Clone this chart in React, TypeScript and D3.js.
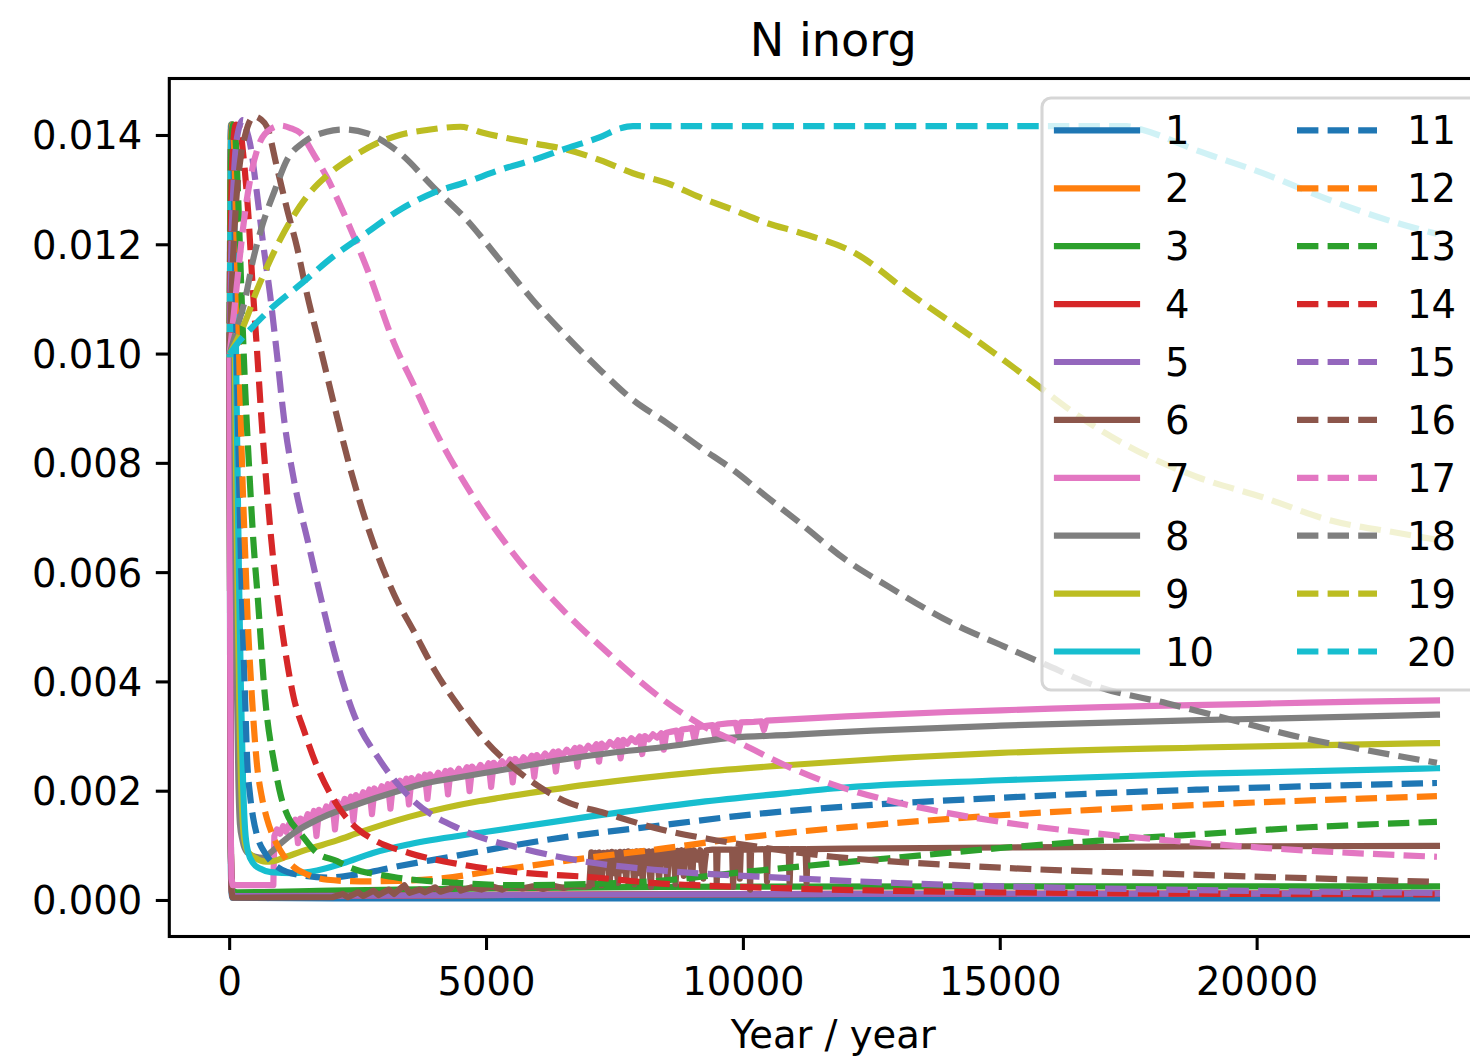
import React from 'react';
import * as d3 from 'd3';

type P = [number, number];

const seriesLabels = ['1','2','3','4','5','6','7','8','9','10','11','12','13','14','15','16','17','18','19','20'];
const tab10 = ['#1f77b4','#ff7f0e','#2ca02c','#d62728','#9467bd','#8c564b','#e377c2','#7f7f7f','#bcbd22','#17becf'];
const xTickValues = [0, 5000, 10000, 15000, 20000];
const yTickValues = [0, 0.002, 0.004, 0.006, 0.008, 0.010, 0.012, 0.014];

const s1: P[] = [[0,0.01],[8,0.0045],[18,0.0012],[30,0.0003],[50,0.00005],[2000,0.00004],[10000,0.00004],[23500,0.00004]];
const s2: P[] = [[0,0.01],[10,0.0045],[22,0.0012],[36,0.0003],[60,0.00008],[3000,0.00009],[7000,0.00011],[12000,0.00012],[23500,0.00013]];
const s3: P[] = [[0,0.01],[10,0.0045],[22,0.0013],[36,0.0004],[60,0.00018],[150,0.00015],[2000,0.00018],[5000,0.00022],[8400,0.00025],[15000,0.00026],[23500,0.00026]];
const s4: P[] = [[0,0.01],[10,0.0045],[22,0.0012],[36,0.0003],[60,0.00008],[3000,0.00009],[7000,0.00011],[12000,0.00012],[23500,0.00013]];
const s5: P[] = [[0,0.01],[10,0.0045],[22,0.0012],[36,0.0003],[60,0.00008],[3000,0.00009],[7000,0.00011],[12000,0.00012],[23500,0.00013]];
const s6: P[] = [[0,0.01],[10,0.004],[25,0.0008],[40,0.00015],[60,0.00005],[2000,0.00006],[2200,0.00012],[2300,0.00006],[2500,0.00015],[2600,0.00008],[2800,0.00018],[2900,0.0001],[3100,0.0002],[3200,0.00012],[3400,0.00028],[3500,0.00014],[3700,0.0002],[3800,0.00015],[4000,0.00024],[4100,0.00016],[4300,0.00022],[4400,0.00034],[4500,0.00018],[4700,0.00024],[4900,0.0002],[5100,0.00026],[5300,0.0002],[5500,0.00028],[5700,0.00022],[5900,0.00026],[6100,0.00021],[6300,0.00027],[6500,0.00023],[6700,0.00028],[6900,0.00025],[7000,0.00026],[7040,0.00088],[7060,0.0005],[7080,0.0003],[7100,0.0007],[7120,0.00087],[7140,0.0006],[7160,0.00045],[7180,0.0008],[7200,0.00088],[7220,0.0005],[7240,0.00028],[7260,0.0007],[7280,0.00087],[7300,0.0007],[7320,0.0006],[7340,0.0008],[7360,0.00088],[7380,0.0005],[7400,0.00035],[7420,0.0007],[7440,0.00089],[7460,0.0007],[7480,0.0005],[7500,0.0008],[7520,0.00088],[7540,0.0005],[7560,0.00032],[7580,0.0007],[7600,0.00089],[7620,0.0007],[7640,0.00055],[7660,0.0008],[7680,0.00089],[7700,0.0006],[7720,0.00038],[7740,0.0007],[7760,0.0009],[7780,0.0007],[7800,0.0006],[7820,0.0008],[7840,0.00089],[7860,0.0005],[7880,0.0003],[7900,0.0007],[7920,0.0009],[7940,0.0007],[7960,0.0005],[7980,0.0008],[8000,0.0009],[8020,0.0006],[8040,0.00036],[8060,0.0007],[8080,0.0009],[8100,0.0008],[8120,0.00065],[8140,0.0008],[8160,0.0009],[8180,0.0005],[8200,0.00025],[8220,0.0007],[8240,0.0009],[8260,0.0007],[8280,0.0006],[8300,0.0008],[8320,0.00091],[8340,0.0006],[8360,0.0004],[8380,0.0007],[8400,0.00091],[8420,0.0008],[8440,0.0007],[8460,0.0008],[8480,0.00091],[8500,0.0006],[8520,0.00035],[8540,0.0007],[8560,0.00091],[8580,0.0008],[8600,0.00075],[8620,0.0008],[8640,0.00091],[8660,0.0006],[8680,0.0003],[8700,0.0007],[8720,0.00091],[8740,0.0007],[8760,0.0006],[8780,0.0008],[8800,0.00092],[8820,0.0006],[8840,0.00045],[8860,0.0008],[8880,0.00092],[8900,0.0008],[8920,0.0007],[8940,0.0008],[8960,0.00092],[8980,0.0005],[9000,0.00032],[9020,0.0007],[9040,0.00092],[9070,0.0008],[9100,0.00075],[9130,0.0008],[9160,0.00092],[9190,0.0006],[9220,0.0004],[9250,0.0007],[9280,0.00092],[9400,0.00093],[9470,0.00093],[9480,0.0003],[9500,0.00093],[9780,0.00093],[9800,0.00025],[9820,0.00093],[9920,0.00093],[9930,0.0004],[9950,0.00093],[10120,0.00093],[10130,0.0002],[10150,0.00093],[10440,0.00094],[10460,0.00035],[10480,0.00094],[10880,0.00094],[10900,0.0003],[10920,0.00094],[11210,0.00094],[11230,0.00032],[11250,0.00094],[12000,0.00095],[15000,0.00097],[19000,0.00099],[23500,0.001]];
const s7: P[] = [[0,0.01],[10,0.0045],[22,0.0012],[36,0.0004],[60,0.00028],[850,0.00028],[870,0.00118],[920,0.0013],[980,0.00122],[1040,0.00136],[1100,0.00126],[1160,0.0014],[1220,0.00132],[1280,0.00148],[1330,0.00105],[1380,0.0015],[1450,0.0014],[1520,0.00158],[1580,0.00146],[1640,0.00164],[1690,0.00118],[1740,0.00166],[1810,0.00155],[1880,0.00172],[1940,0.0016],[2000,0.00178],[2050,0.0013],[2100,0.0018],[2170,0.00168],[2240,0.00186],[2300,0.00174],[2360,0.0019],[2410,0.00145],[2460,0.00193],[2530,0.00182],[2600,0.00198],[2660,0.00187],[2720,0.00203],[2770,0.00158],[2820,0.00205],[2890,0.00194],[2960,0.00209],[3020,0.00198],[3080,0.00213],[3130,0.00168],[3180,0.00215],[3250,0.00204],[3320,0.00219],[3380,0.00208],[3440,0.00223],[3490,0.00176],[3540,0.00224],[3610,0.00213],[3680,0.00227],[3740,0.00216],[3800,0.0023],[3850,0.00186],[3900,0.00231],[3980,0.0022],[4060,0.00234],[4130,0.00223],[4200,0.00237],[4250,0.00194],[4300,0.00238],[4380,0.00228],[4460,0.00241],[4540,0.00231],[4620,0.00244],[4670,0.002],[4720,0.00245],[4800,0.00235],[4880,0.00248],[4960,0.00238],[5040,0.00251],[5090,0.00208],[5140,0.00252],[5220,0.00243],[5300,0.00255],[5380,0.00246],[5460,0.00258],[5510,0.00216],[5560,0.00259],[5640,0.0025],[5720,0.00262],[5800,0.00253],[5880,0.00265],[5930,0.00226],[5980,0.00266],[6060,0.00258],[6140,0.00269],[6220,0.00261],[6300,0.00272],[6350,0.00236],[6400,0.00273],[6480,0.00265],[6560,0.00276],[6640,0.00268],[6720,0.00279],[6770,0.00245],[6820,0.0028],[6900,0.00272],[6980,0.00283],[7060,0.00276],[7140,0.00286],[7190,0.00254],[7240,0.00287],[7320,0.0028],[7400,0.0029],[7480,0.00283],[7560,0.00293],[7610,0.0026],[7660,0.00294],[7740,0.00287],[7820,0.00297],[7900,0.0029],[7980,0.003],[8030,0.00268],[8080,0.00301],[8160,0.00295],[8240,0.00304],[8320,0.00298],[8400,0.00306],[8450,0.00276],[8500,0.00307],[8600,0.00309],[8700,0.00311],[8750,0.00286],[8800,0.00313],[8900,0.00314],[9000,0.00316],[9050,0.00294],[9100,0.00317],[9250,0.00319],[9400,0.00321],[9450,0.003],[9500,0.00322],[9700,0.00324],[9850,0.00325],[9900,0.00306],[9950,0.00326],[10200,0.00327],[10350,0.00328],[10400,0.00312],[10450,0.00329],[11000,0.00332],[12000,0.00337],[13000,0.00341],[14000,0.00345],[15000,0.00348],[16000,0.00351],[17000,0.00354],[18000,0.00356],[19000,0.00358],[20000,0.0036],[21000,0.00362],[22000,0.00364],[23500,0.00366]];
const s8: P[] = [[0,0.01],[12,0.0128],[25,0.0142],[45,0.0139],[70,0.0115],[100,0.0075],[140,0.004],[170,0.0022],[200,0.0014],[250,0.0011],[340,0.00088],[500,0.0008],[650,0.00078],[800,0.00088],[1000,0.00105],[1240,0.00123],[1800,0.00152],[2540,0.00178],[3200,0.00198],[3840,0.00215],[4500,0.00226],[5130,0.00236],[6430,0.00257],[7400,0.0027],[8380,0.0028],[9800,0.00298],[10900,0.00303],[12500,0.00311],[15000,0.0032],[18880,0.0033],[23500,0.0034]];
const s9: P[] = [[0,0.01],[15,0.013],[35,0.0142],[55,0.0139],[85,0.0115],[120,0.0082],[160,0.0052],[200,0.003],[240,0.0017],[280,0.00115],[350,0.0009],[500,0.00078],[700,0.00071],[850,0.00072],[1100,0.0008],[1500,0.00093],[2090,0.0011],[2540,0.00125],[3490,0.00153],[4870,0.00182],[5260,0.00188],[6960,0.00212],[9150,0.00235],[10900,0.00248],[15000,0.0027],[18880,0.0028],[23500,0.00288]];
const s10: P[] = [[0,0.01],[20,0.0135],[45,0.0142],[65,0.014],[100,0.0118],[140,0.0088],[180,0.006],[220,0.0038],[260,0.0022],[300,0.0013],[360,0.00088],[460,0.00068],[600,0.00058],[800,0.00052],[1240,0.0005],[1700,0.00055],[2200,0.00068],[2790,0.00087],[3500,0.00103],[4870,0.00124],[6960,0.00153],[9150,0.0018],[10900,0.00197],[11750,0.00205],[15000,0.0022],[18880,0.00232],[23500,0.00242]];
const s11: P[] = [[0,0.01],[10,0.0128],[25,0.0141],[45,0.0142],[70,0.0136],[110,0.0115],[160,0.0088],[210,0.0066],[250,0.0052],[300,0.0037],[340,0.0026],[400,0.0019],[460,0.0015],[530,0.0012],[700,0.00085],[920,0.00062],[1400,0.00046],[1900,0.00042],[2500,0.00048],[3300,0.00063],[4300,0.0008],[5350,0.00098],[6600,0.00117],[8000,0.00133],[10440,0.0016],[12500,0.00175],[15000,0.00188],[18880,0.00203],[23500,0.00215]];
const s12: P[] = [[0,0.01],[12,0.0126],[30,0.014],[55,0.0142],[85,0.0138],[130,0.0122],[190,0.0098],[250,0.0077],[300,0.0064],[335,0.0055],[435,0.0037],[530,0.0025],[625,0.0019],[725,0.0015],[880,0.0011],[1050,0.00082],[1240,0.00062],[1500,0.00048],[1900,0.00038],[2540,0.00035],[3300,0.00036],[4170,0.00041],[5200,0.00055],[6260,0.00069],[7300,0.00082],[8350,0.00094],[10000,0.00115],[12500,0.00138],[15000,0.00156],[18880,0.00175],[23500,0.00191]];
const s13: P[] = [[0,0.01],[15,0.0127],[40,0.014],[70,0.0142],[110,0.014],[160,0.013],[230,0.0111],[300,0.0094],[380,0.0079],[460,0.0066],[550,0.0055],[690,0.0037],[880,0.00245],[1000,0.0019],[1140,0.00153],[1370,0.00124],[1700,0.00087],[2090,0.00072],[2280,0.00063],[3190,0.00043],[4480,0.00032],[5570,0.00028],[7000,0.0003],[8350,0.00036],[10000,0.00052],[11750,0.00068],[13500,0.00083],[15000,0.00096],[17000,0.0011],[19000,0.00122],[21000,0.00134],[23500,0.00144]];
const s14: P[] = [[0,0.01],[20,0.0122],[60,0.0137],[120,0.0142],[190,0.01415],[270,0.0136],[360,0.0126],[450,0.0112],[530,0.0101],[620,0.0088],[710,0.0077],[800,0.0067],[900,0.0058],[1060,0.0047],[1250,0.0037],[1450,0.0031],[1680,0.0025],[2090,0.00175],[2500,0.0013],[2790,0.00112],[3490,0.00087],[4500,0.00066],[5800,0.0005],[7000,0.00043],[8400,0.00031],[9040,0.00028],[10900,0.00022],[15000,0.00015],[23500,0.00011]];
const s15: P[] = [[0,0.01],[30,0.0118],[80,0.0132],[150,0.014],[260,0.01428],[330,0.0141],[395,0.01386],[530,0.01295],[650,0.01203],[785,0.0111],[920,0.01],[1060,0.0088],[1250,0.0077],[1540,0.0065],[1760,0.0056],[2050,0.0045],[2420,0.0034],[2900,0.0026],[3550,0.00185],[4500,0.0013],[5700,0.00095],[7000,0.0007],[8400,0.00055],[10900,0.00041],[13000,0.00032],[15000,0.00026],[18880,0.00019],[23500,0.00014]];
const s16: P[] = [[0,0.01],[50,0.0114],[120,0.0127],[200,0.0135],[300,0.014],[400,0.01428],[480,0.01435],[600,0.0143],[730,0.01415],[920,0.01342],[1120,0.01264],[1310,0.01196],[1500,0.01112],[1760,0.01013],[2010,0.00916],[2340,0.00793],[2730,0.00672],[3200,0.0056],[3600,0.0049],[4000,0.0042],[4500,0.0035],[5000,0.0029],[5500,0.00245],[6000,0.0021],[6500,0.00183],[7300,0.0016],[8400,0.0013],[9300,0.00113],[10300,0.00098],[11750,0.0008],[13300,0.00069],[15000,0.0006],[18880,0.00047],[23500,0.00034]];
const s17: P[] = [[0,0.01],[100,0.0109],[200,0.0118],[300,0.0126],[420,0.0133],[600,0.0139],[800,0.01412],[1000,0.01418],[1200,0.01413],[1370,0.01405],[1620,0.01368],[1890,0.01324],[2280,0.01245],[2700,0.0115],[3200,0.0102],[3600,0.0094],[4000,0.0086],[4600,0.0076],[5400,0.0065],[6400,0.0054],[7400,0.0045],[8400,0.0037],[9200,0.0032],[10000,0.00285],[10800,0.00248],[11750,0.00212],[12700,0.00186],[13700,0.00165],[15000,0.00144],[17580,0.00116],[20180,0.00096],[23500,0.0008]];
const s18: P[] = [[0,0.01],[150,0.0105],[300,0.011],[450,0.0117],[650,0.0124],[880,0.013],[1120,0.01356],[1430,0.01387],[1890,0.01407],[2210,0.01411],[2670,0.01404],[3310,0.01368],[3960,0.01306],[4620,0.01245],[5260,0.01172],[5900,0.01099],[6570,0.01031],[7210,0.00971],[7850,0.00916],[8510,0.00874],[9150,0.0083],[9800,0.00788],[10450,0.00739],[11100,0.00691],[12000,0.00623],[12850,0.00573],[14140,0.00504],[15000,0.00468],[15850,0.00433],[16940,0.0039],[18240,0.00361],[19530,0.0033],[20830,0.00299],[22130,0.00275],[23500,0.00252]];
const s19: P[] = [[0,0.01],[140,0.01025],[340,0.01068],[530,0.01117],[730,0.0116],[980,0.01209],[1230,0.01251],[1560,0.01295],[1950,0.01331],[2400,0.01361],[2870,0.01386],[3310,0.01401],[3840,0.0141],[4490,0.01416],[4930,0.01405],[5900,0.01386],[6570,0.01374],[7210,0.01355],[7850,0.01331],[8510,0.01313],[9150,0.01287],[9800,0.01264],[10450,0.0124],[11100,0.01222],[12170,0.01185],[13280,0.01108],[14560,0.01024],[15580,0.00953],[16550,0.00885],[17520,0.0083],[18830,0.00775],[20110,0.00738],[21410,0.00696],[22720,0.00673],[23500,0.0066]];
const s20: P[] = [[0,0.01],[200,0.01025],[450,0.0105],[780,0.01081],[1370,0.01127],[2010,0.01178],[2670,0.01222],[3310,0.01264],[3960,0.01295],[4620,0.01315],[5260,0.01337],[5900,0.01355],[6570,0.01377],[7210,0.01397],[7600,0.01413],[7850,0.01417],[12000,0.01417],[17460,0.01417],[17780,0.0141],[18820,0.01373],[20110,0.01331],[21410,0.01282],[22720,0.0124],[23500,0.0122]];

const allSeries: P[][] = [s1,s2,s3,s4,s5,s6,s7,s8,s9,s10,s11,s12,s13,s14,s15,s16,s17,s18,s19,s20];
const noisy = new Set([5, 6]);

const FONT = '"DejaVu Sans", "Liberation Sans", sans-serif';

export default function App() {
  const W = 1470, H = 1061;
  const left = 169.3, right = 1497.3, top = 78.5, bottom = 936.5;
  const x = d3.scaleLinear().domain([-1175, 24675]).range([left, right]);
  const y = d3.scaleLinear().domain([-0.000659, 0.015043]).range([bottom, top]);
  const lw = 6.2;
  const dash = '21.4 9.2';
  const fmt = d3.format('.3f');

  const smooth = d3.line<P>().x(d => x(d[0])).y(d => y(d[1])).curve(d3.curveMonotoneX);
  const straight = d3.line<P>().x(d => x(d[0])).y(d => y(d[1]));

  const legX0 = 1042, legY0 = 98, legY1 = 690;
  const rowY = (r: number) => 130.4 + r * 57.9;
  const colHandle = [1057, 1297];
  const colText = [1165, 1407];

  return (
    <svg width={W} height={H} style={{ position: 'absolute', left: 0, top: 0, background: '#fff' }} xmlns="http://www.w3.org/2000/svg">
      <rect x={0} y={0} width={W} height={H} fill="#fff" />
      <defs>
        <clipPath id="plotclip">
          <rect x={left} y={top} width={right - left} height={bottom - top} />
        </clipPath>
      </defs>
      <g clipPath="url(#plotclip)">
        {allSeries.map((s, i) => (
          <path key={i}
            d={(noisy.has(i) ? straight : smooth)(s) || ''}
            fill="none"
            stroke={tab10[i % 10]}
            strokeWidth={lw}
            strokeDasharray={i >= 10 ? dash : undefined}
            strokeLinecap={i >= 10 ? 'butt' : 'square'}
            strokeLinejoin="round" />
        ))}
      </g>
      <rect x={left} y={top} width={right - left} height={bottom - top} fill="none" stroke="#000" strokeWidth={3.08} />
      {xTickValues.map(v => (
        <g key={'xt' + v}>
          <line x1={x(v)} x2={x(v)} y1={bottom} y2={bottom + 13.5} stroke="#000" strokeWidth={3.08} />
          <text x={x(v)} y={995} textAnchor="middle" fontFamily={FONT} fontSize={38.5} fill="#000">{String(v)}</text>
        </g>
      ))}
      {yTickValues.map(v => (
        <g key={'yt' + v}>
          <line x1={left - 13.5} x2={left} y1={y(v)} y2={y(v)} stroke="#000" strokeWidth={3.08} />
          <text x={142.3} y={y(v) + 14} textAnchor="end" fontFamily={FONT} fontSize={38.5} fill="#000">{fmt(v)}</text>
        </g>
      ))}
      <text x={(left + right) / 2} y={1048} textAnchor="middle" fontFamily={FONT} fontSize={38.5} fill="#000">Year / year</text>
      <text x={(left + right) / 2} y={55.5} textAnchor="middle" fontFamily={FONT} fontSize={46.2} fill="#000">N inorg</text>
      <g>
        <rect x={legX0} y={legY0} width={460} height={legY1 - legY0} rx={9} ry={9} fill="#fff" fillOpacity={0.8} stroke="#cccccc" strokeOpacity={0.8} strokeWidth={3.08} />
        {seriesLabels.map((lab, i) => {
          const c = i < 10 ? 0 : 1;
          const r = i % 10;
          const yy = rowY(r);
          return (
            <g key={'lg' + i}>
              <line x1={colHandle[c]} x2={colHandle[c] + 80} y1={yy} y2={yy}
                stroke={tab10[i % 10]} strokeWidth={lw}
                strokeDasharray={i >= 10 ? dash : undefined}
                strokeLinecap={i >= 10 ? 'butt' : 'square'} />
              <text x={colText[c]} y={yy + 14} fontFamily={FONT} fontSize={38.5} fill="#000">{lab}</text>
            </g>
          );
        })}
      </g>
    </svg>
  );
}
